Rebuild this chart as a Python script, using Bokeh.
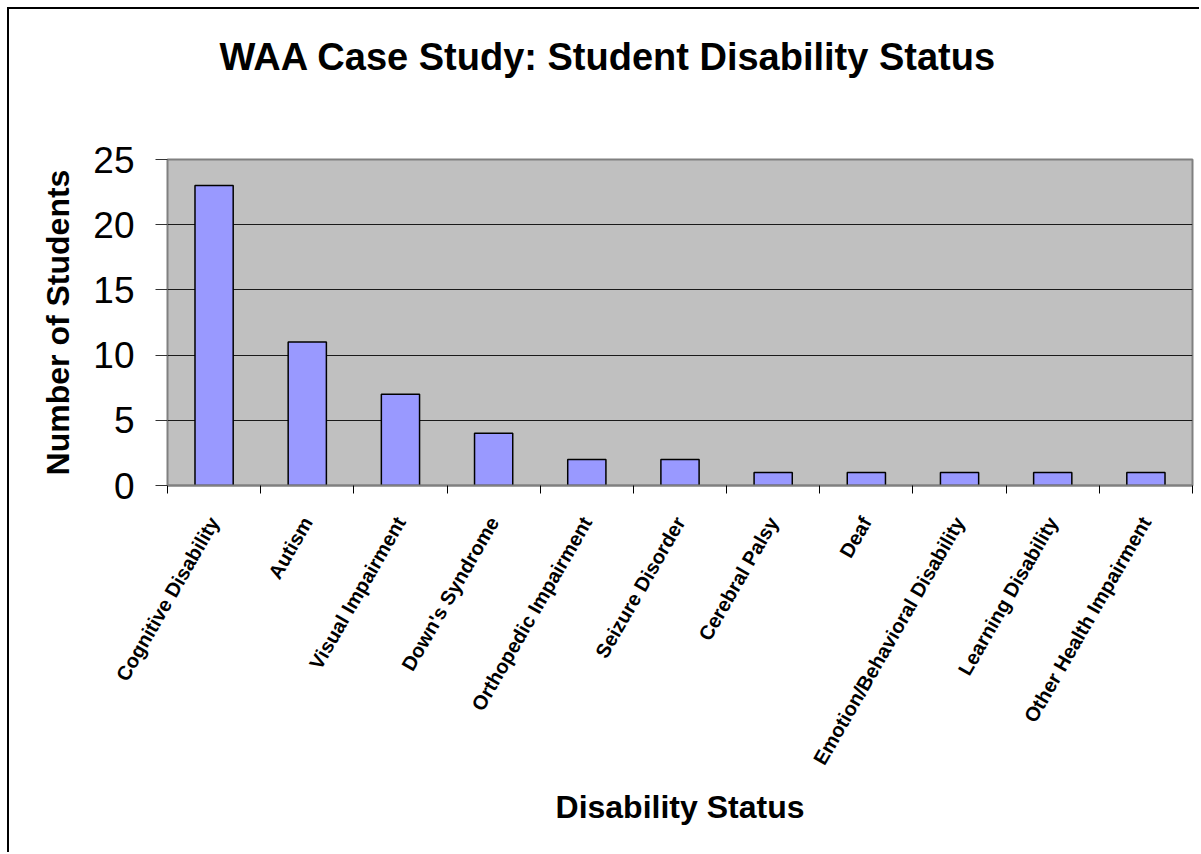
import math
from bokeh.plotting import figure
from bokeh.models import Range1d, LinearAxis, FixedTicker, Title
from bokeh.embed import file_html
from bokeh.resources import INLINE

categories = ["Cognitive Disability", "Autism", "Visual Impairment", "Down's Syndrome",
              "Orthopedic Impairment", "Seizure Disorder", "Cerebral Palsy", "Deaf",
              "Emotion/Behavioral Disability", "Learning Disability", "Other Health Impairment"]
students = [23, 11, 7, 4, 2, 2, 1, 1, 1, 1, 1]
y_ticks = [0, 5, 10, 15, 20, 25]
title_text = "WAA Case Study: Student Disability Status"

FONT = "Liberation Sans"
n = len(categories)
centers = [i + 0.5 for i in range(n)]

p = figure(width=1192, height=845,
           x_range=Range1d(0, n), y_range=Range1d(0, 25),
           x_axis_location=None, y_axis_location="left",
           output_backend="svg", toolbar_location=None,
           min_border_left=158, min_border_right=9,
           min_border_top=150, min_border_bottom=369)
p.styles = {"margin-left": "7px", "margin-top": "7px",
            "border-left": "2px solid black", "border-top": "2px solid black"}

# spacer between plot area and title, then the title itself
p.add_layout(Title(text=" ", text_font=FONT, text_font_size="10px", standoff=69), "above")
p.add_layout(Title(text=title_text, align="left", offset=52, standoff=0,
                   text_font=FONT, text_font_size="38px", text_font_style="bold",
                   text_color="black"), "above")

p.background_fill_color = "#C0C0C0"
p.border_fill_color = "white"
p.outline_line_color = "#808080"
p.outline_line_width = 2

p.vbar(x=centers, top=students, width=0.41,
       fill_color="#9999FF", line_color="black", line_width=1.5)

# y axis
ya = p.yaxis[0]
ya.ticker = FixedTicker(ticks=y_ticks)
ya.major_label_text_font = FONT
ya.major_label_text_font_size = "37px"
ya.major_label_text_color = "black"
ya.major_tick_out = 12
ya.major_tick_in = 0
ya.minor_tick_out = 0
ya.minor_tick_in = 0
ya.major_tick_line_color = "#333333"
ya.axis_line_color = "#808080"
ya.major_label_standoff = 21
ya.axis_label = "Number of Students"
ya.axis_label_text_font = FONT
ya.axis_label_text_font_size = "32px"
ya.axis_label_text_font_style = "bold"
ya.axis_label_text_color = "black"
ya.axis_label_standoff = 14

p.ygrid.ticker = FixedTicker(ticks=y_ticks)
p.ygrid.grid_line_color = "#1a1a1a"
p.ygrid.grid_line_width = 1
p.xgrid.visible = False

# separator ticks between categories
sep = LinearAxis(ticker=FixedTicker(ticks=list(range(n + 1))),
                 major_label_overrides={i: "" for i in range(n + 1)},
                 major_label_text_font_size="1px", major_label_standoff=0,
                 major_tick_out=8, major_tick_in=0, minor_tick_out=0, minor_tick_in=0,
                 major_tick_line_color="black", axis_line_color="#808080", axis_line_width=2)
p.add_layout(sep, "below")

xa = LinearAxis(ticker=FixedTicker(ticks=centers),
                major_label_overrides={c: name for c, name in zip(centers, categories)},
                major_tick_out=0, major_tick_in=0, minor_tick_out=0, minor_tick_in=0,
                axis_line_color=None,
                major_label_orientation=math.pi / 3,
                major_label_text_font=FONT, major_label_text_font_size="20px",
                major_label_text_font_style="bold", major_label_text_color="black",
                major_label_standoff=25,
                axis_label="Disability Status", axis_label_text_font=FONT,
                axis_label_text_font_size="32px", axis_label_text_font_style="bold",
                axis_label_text_color="black", axis_label_standoff=12)
p.add_layout(xa, "below")

open("out.html", "w").write(file_html(p, INLINE))
